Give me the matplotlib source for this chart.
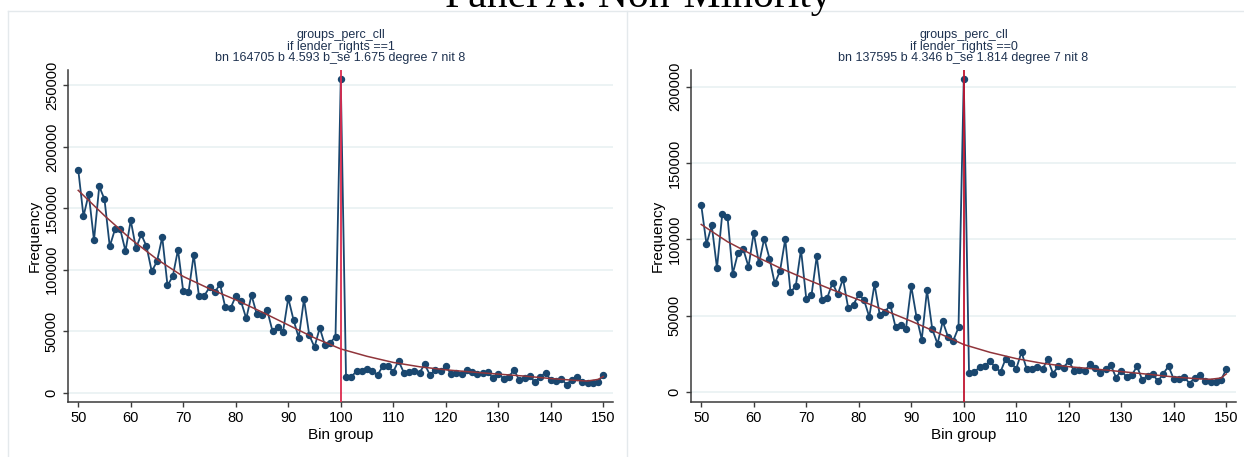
import matplotlib.pyplot as plt
from matplotlib.lines import Line2D

# bin groups 50..150, counts per bin
bins = list(range(50, 151))

lender1_freq = [181500, 143500, 161700, 123900, 167900, 157300, 119000, 132900, 132900, 115200,
                140200, 117400, 128800, 119000, 98600, 106800, 126600, 87200, 94500, 116300,
                82300, 81500, 112200, 78200, 78800, 85600, 81500, 88300, 69600, 68500,
                78500, 74200, 60300, 79300, 63900, 63300, 66800, 50000, 53000, 49400,
                76900, 59200, 44600, 76100, 46700, 37000, 52700, 38300, 40500, 45600,
                255000,
                12800, 12800, 17400, 17400, 19100, 17400, 14200, 21500, 21500, 16900,
                25900, 16300, 16900, 17700, 16300, 22900, 14200, 18300, 17200, 21500,
                15000, 16300, 15000, 18300, 16900, 14700, 15800, 16600, 11700, 15500,
                11400, 12800, 18300, 10100, 12000, 13400, 8200, 12800, 16100, 10100,
                9800, 11200, 6500, 10600, 12300, 8400, 7900, 7900, 8700, 14400]

lender0_freq = [122500, 96900, 109200, 81200, 116600, 115000, 77500, 91200, 93700, 82100,
                104300, 84300, 100600, 87500, 71200, 79200, 100200, 65500, 69400, 93400,
                61300, 63500, 89100, 60500, 61800, 71600, 64000, 74200, 55000, 57400,
                64000, 60500, 49300, 70700, 50600, 52600, 57200, 42800, 43700, 41700,
                69400, 49300, 34500, 66800, 41300, 31700, 46300, 36200, 33800, 42400,
                204800,
                12800, 13000, 16500, 17400, 20200, 16300, 13300, 22000, 19300, 15400,
                26300, 15000, 15200, 16500, 15200, 21500, 12200, 17000, 16100, 20400,
                14100, 14600, 13700, 18300, 15900, 12800, 15000, 17800, 9600, 14100,
                10000, 11100, 17000, 8000, 10700, 11700, 7200, 12200, 17000, 8500,
                8700, 10000, 5700, 9600, 11300, 7400, 6700, 6500, 8000, 15200]

# counterfactual polynomial (degree 7), sampled along the bins
fit_bins = [50, 55, 60, 65, 70, 75, 80, 85, 90, 95, 100, 105, 110, 115, 120,
            125, 130, 135, 140, 145, 147, 149, 150]
lender1_fit = [164600, 144000, 125000, 108500, 94500, 84500, 75500, 65500, 55000, 44500,
               35500, 29500, 24500, 21000, 18500, 16700, 15000, 13400, 11400, 9800,
               9400, 10700, 13000]
lender0_fit = [109800, 98500, 89500, 81300, 74000, 67000, 60500, 53500, 46500, 39000,
               31200, 26100, 22000, 18900, 16700, 15200, 13500, 11800, 10000, 8700,
               8500, 9300, 12000]

subtitles = [["groups_perc_cll", "if lender_rights ==1",
              "bn 164705 b 4.593 b_se 1.675 degree 7 nit 8"],
             ["groups_perc_cll", "if lender_rights ==0",
              "bn 137595 b 4.346 b_se 1.814 degree 7 nit 8"]]

plt.rcParams['font.family'] = ['Liberation Sans', 'DejaVu Sans']

W, H = 1244, 457
fig = plt.figure(figsize=(W / 100, H / 100), dpi=100)

panels = [
    dict(left=68, freq=lender1_freq, fit=lender1_fit, ylim=(-7700, 262600),
         yticks=[0, 50000, 100000, 150000, 200000, 250000], xline="#dc2b4e"),
    dict(left=691, freq=lender0_freq, fit=lender0_fit, ylim=(-6400, 210900),
         yticks=[0, 50000, 100000, 150000, 200000], xline="#c01530"),
]

navy = "#1a476f"
maroon = "#90353b"
axis_col = "#3a3a3a"

for p, sub in zip(panels, subtitles):
    ax = fig.add_axes([p["left"] / W, 1 - 402 / H, 545 / W, 332 / H])
    ax.set_xlim(48.05, 151.85)
    ax.set_ylim(*p["ylim"])
    ax.set_yticks(p["yticks"])
    ax.set_yticklabels([str(t) for t in p["yticks"]], rotation=90, va="center")
    ax.set_xticks(range(50, 151, 10))
    ax.yaxis.grid(True, color="#eaf2f3", lw=1.3)
    ax.set_axisbelow(True)

    ax.plot(bins, p["freq"], color=navy, lw=1.3, marker="o", ms=4.3, zorder=2)
    ax.plot(fit_bins, p["fit"], color=maroon, lw=1.1, zorder=2.5)
    ax.axvline(100, color=p["xline"], lw=1.3, zorder=3)

    for s in ["top", "right"]:
        ax.spines[s].set_visible(False)
    for s in ["left", "bottom"]:
        ax.spines[s].set_color(axis_col)
        ax.spines[s].set_linewidth(1.1)
    ax.tick_params(length=3.6, width=1.0, color=axis_col, labelsize=10.5, pad=3,
                   labelcolor="black")

    ax.set_xlabel("Bin group", fontsize=11)
    ax.xaxis.label.set_va("center")
    ax.xaxis.set_label_coords(0.5, (402 - 435) / 332)
    ax.set_ylabel("Frequency", fontsize=11)
    ax.yaxis.label.set_va("center")
    ax.yaxis.set_label_coords(-33 / 545, 0.5)

    cx = (p["left"] + 272.5) / W
    for line, ypx in zip(sub, [35, 47, 58]):
        fig.text(cx, 1 - ypx / H, line, ha="center", va="center", fontsize=9, color="#1e3250")

# combined-graph frames
frame = "#e4e9ec"
fig.add_artist(Line2D([8 / W, 8 / W], [0, 1 - 11 / H], color=frame, lw=1))
fig.add_artist(Line2D([627 / W, 627 / W], [0, 1 - 11 / H], color=frame, lw=1))
fig.add_artist(Line2D([8 / W, 1], [1 - 11 / H, 1 - 11 / H], color=frame, lw=1))

fig.text(0.513, 1 - 7 / H, "Panel A: Non-Minority", family="Liberation Serif",
         fontsize=30, ha="center", va="baseline")

fig.savefig("out.png", dpi=100)
